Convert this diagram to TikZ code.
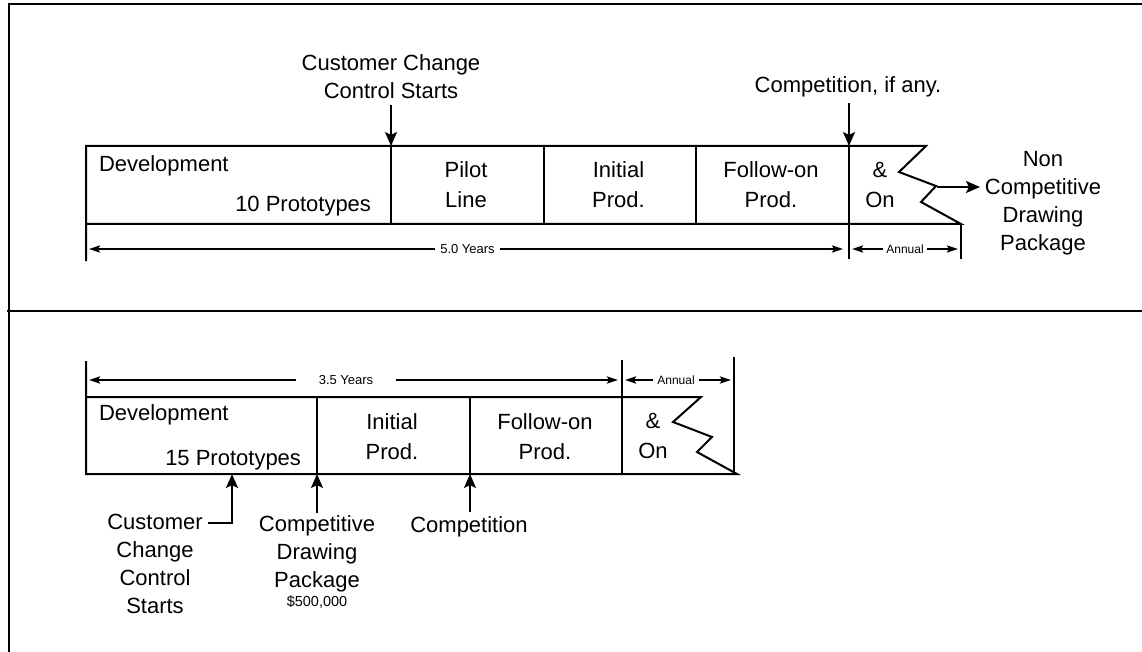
\documentclass[tikz,border=0pt]{standalone}
\usepackage{fontspec}
\setmainfont{Liberation Sans}
\usetikzlibrary{arrows.meta}

\begin{document}
\begin{tikzpicture}[x=1pt,y=-1pt,
  line width=2pt, line join=miter,
  body/.style={font=\fontsize{22}{30}\selectfont, inner sep=0pt},
  cell/.style={body, align=center, anchor=north},
  lbl/.style={font=\fontsize{22}{28}\selectfont, inner sep=0pt, align=center},
  dimtxt/.style={font=\fontsize{13}{15}\selectfont, inner ysep=0pt},
  anntxt/.style={font=\fontsize{12}{14}\selectfont, inner ysep=0pt, inner xsep=2pt},
  callout/.style={-{Stealth[length=14pt,width=12pt,inset=3pt]}},
  dim/.style={-{Stealth[length=11pt,width=7pt,inset=2pt]}},
]
\useasboundingbox (0,0) rectangle (1142,652);

% frame and panel divider
\draw[line width=2.5pt] (9,652) -- (9,4) -- (1142,4);
\draw[line width=2.5pt] (7,311) -- (1142,311);

% ---------------- upper schedule (5.0 years) ----------------
\draw (86,261) -- (86,146) -- (926,146) -- (899,172) -- (936,186)
      -- (921,202) -- (961,224) -- (86,224);
\draw (391,146) -- (391,224);
\draw (544,146) -- (544,224);
\draw (696,146) -- (696,224);
\draw (849,146) -- (849,259);
\draw (961,224) -- (961,259);

\node[body, anchor=base west] (dev1) at (98,172) {Development};
\node[body, anchor=base east] (proto1) at (372,212) {10 Prototypes};
\node[cell] (pilot) at (466,161) {Pilot\\Line};
\node[cell] (init1) at (618.5,161) {Initial\\Prod.};
\node[cell] (fol1) at (771,161) {Follow-on\\Prod.};
\node[cell] (on1) at (880,161.5) {\&\\On};

% duration bar
\node[dimtxt, inner xsep=4.5pt] (y5) at (467.5,249) {5.0 Years};
\draw[dim] (y5.west) -- (89,249);
\draw[dim] (y5.east) -- (843,249);
\node[anntxt] (an1) at (905,249) {Annual};
\draw[dim] (an1.west) -- (852,249);
\draw[dim] (an1.east) -- (958,249);

% callouts
\node[lbl, anchor=north] (ccs1) at (391,53.2) {Customer Change\\Control Starts};
\coordinate (t1) at (391,146);
\draw[callout] ([yshift=-6pt]ccs1.south) -- (t1);
\node[lbl, anchor=base] (comp1) at (848,93) {Competition, if any.};
\coordinate (t2) at (849,146);
\draw[callout] ([yshift=-5pt]comp1.south) -| (t2);
\node[lbl, anchor=north] (ncdp) at (1043,150.2) {Non\\Competitive\\Drawing\\Package};
\coordinate (z1) at (937,187);
\coordinate (nt) at (980,187);
\draw[callout] (z1) -- (nt);

% ---------------- lower schedule (3.5 years) ----------------
\draw (86,361) -- (86,474) -- (737,474) -- (697,452) -- (712,437)
      -- (673,422) -- (701,397) -- (86,397);
\draw (317,397) -- (317,474);
\draw (470,397) -- (470,474);
\draw (622,360) -- (622,474);
\draw (734,357) -- (734,474);

\node[body, anchor=base west] (dev2) at (98,420.7) {Development};
\node[body, anchor=base east] (proto2) at (302,465) {15 Prototypes};
\node[cell] (init2) at (392,412.6) {Initial\\Prod.};
\node[cell] (fol2) at (545,412.6) {Follow-on\\Prod.};
\node[cell] (on2) at (653,412.6) {\&\\On};

% duration bar
\node[dimtxt, inner xsep=22pt] (y35) at (346,380) {3.5 Years};
\draw[dim] (y35.west) -- (89,380);
\draw[dim] (y35.east) -- (618,380);
\node[anntxt, inner xsep=3pt] (an2) at (676,380) {Annual};
\draw[dim] (an2.west) -- (625,380);
\draw[dim] (an2.east) -- (731,380);

% callouts
\node[lbl, anchor=north] (ccs2) at (155,513.6) {Customer\\Change\\Control\\Starts};
\coordinate (cce) at (208,523);
\coordinate (b1) at (232,474);
\draw[callout] (cce) -| (b1);
\node[lbl, anchor=north] (cdp) at (317,514.2) {Competitive\\Drawing\\Package};
\node[font=\fontsize{14.5}{16}\selectfont, inner sep=0pt, anchor=base] (cost) at (317,606.7) {\$500,000};
\coordinate (b2) at (317,474);
\draw[callout] ([yshift=1.5pt]cdp.north) -- (b2);
\node[lbl, anchor=base] (comp2) at (469,532.3) {Competition};
\coordinate (b3) at (470,474);
\draw[callout] ([yshift=4pt]comp2.north) -| (b3);

\end{tikzpicture}
\end{document}
